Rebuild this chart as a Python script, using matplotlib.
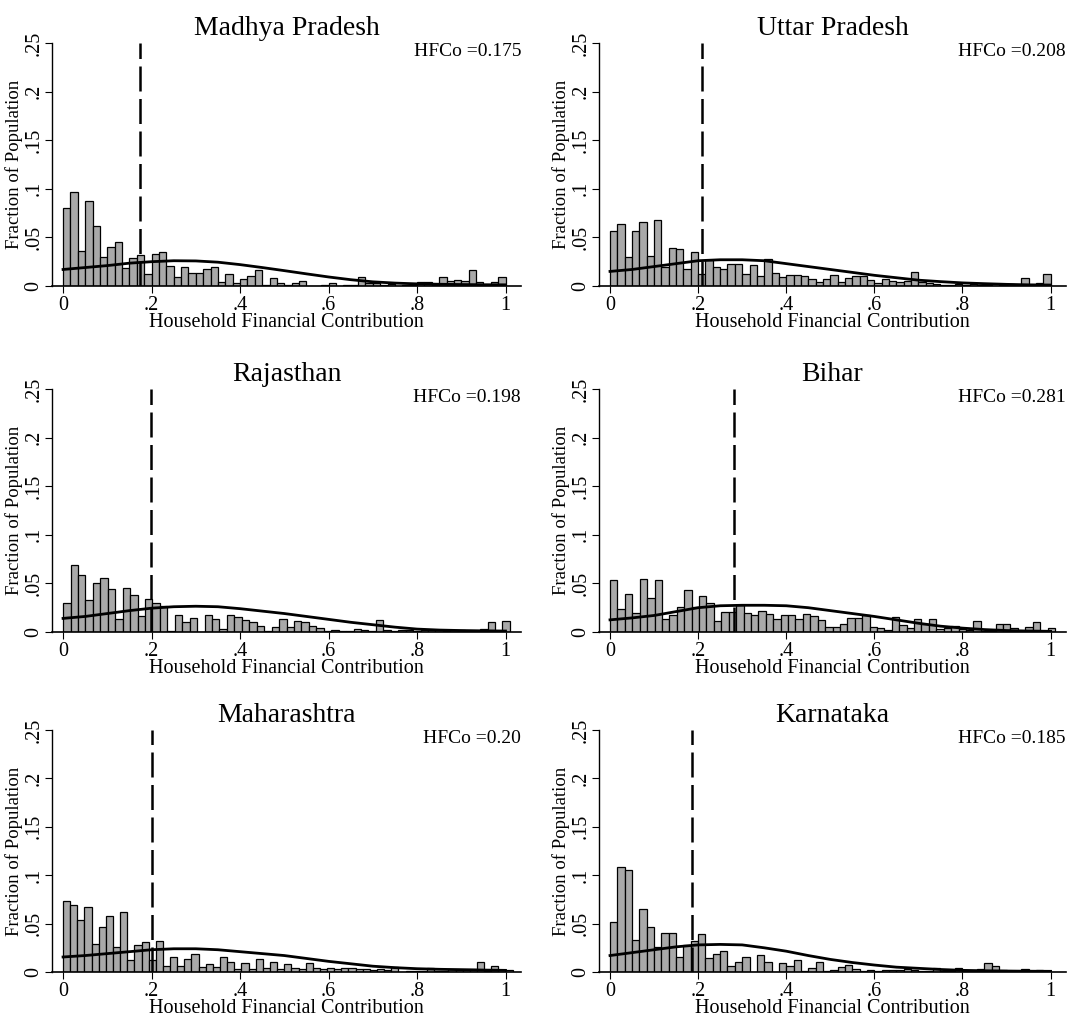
import numpy as np
import matplotlib
matplotlib.use('Agg')
import matplotlib.pyplot as plt

plt.rcParams['font.family'] = ['Liberation Serif', 'DejaVu Serif']

states = ['Madhya Pradesh', 'Uttar Pradesh', 'Rajasthan', 'Bihar', 'Maharashtra', 'Karnataka']
hfco = [0.175, 0.208, 0.198, 0.281, 0.20, 0.185]
hfco_labels = ['HFCo =0.175', 'HFCo =0.208', 'HFCo =0.198', 'HFCo =0.281', 'HFCo =0.20', 'HFCo =0.185']
# upper end of the histogram range for each state
bin_upper = [1.0, 1.0, 1.01, 1.01, 1.016, 1.0]

# bar heights (fraction of population)
mp_frac = [0.080, 0.097, 0.036, 0.087, 0.062, 0.030, 0.040, 0.045, 0.019, 0.029,
           0.032, 0.012, 0.033, 0.035, 0.021, 0.009, 0.020, 0.013, 0.013, 0.017,
           0.020, 0.004, 0.012, 0.003, 0.007, 0.010, 0.016, 0.001, 0.008, 0.003,
           0.001, 0.003, 0.005, 0.000, 0.000, 0.001, 0.003, 0.000, 0.001, 0.001,
           0.009, 0.003, 0.003, 0.001, 0.002, 0.000, 0.001, 0.001, 0.004, 0.004,
           0.001, 0.009, 0.005, 0.006, 0.005, 0.016, 0.004, 0.000, 0.004, 0.009]
up_frac = [0.057, 0.064, 0.030, 0.057, 0.066, 0.031, 0.068, 0.020, 0.039, 0.038,
           0.017, 0.035, 0.012, 0.027, 0.020, 0.018, 0.023, 0.023, 0.012, 0.022,
           0.010, 0.028, 0.013, 0.009, 0.011, 0.011, 0.010, 0.007, 0.004, 0.007,
           0.011, 0.004, 0.008, 0.010, 0.010, 0.006, 0.003, 0.007, 0.005, 0.004,
           0.005, 0.014, 0.004, 0.003, 0.002, 0.001, 0.001, 0.002, 0.001, 0.002,
           0.001, 0.001, 0.000, 0.001, 0.002, 0.001, 0.008, 0.000, 0.003, 0.012]
raj_frac = [0.030, 0.069, 0.059, 0.033, 0.050, 0.056, 0.044, 0.013, 0.045, 0.038,
            0.016, 0.034, 0.030, 0.027, 0.001, 0.017, 0.010, 0.014, 0.000, 0.018,
            0.013, 0.003, 0.017, 0.015, 0.012, 0.010, 0.006, 0.001, 0.005, 0.013,
            0.005, 0.011, 0.010, 0.006, 0.004, 0.001, 0.002, 0.001, 0.001, 0.003,
            0.002, 0.001, 0.012, 0.002, 0.001, 0.002, 0.002, 0.001, 0.002, 0.002,
            0.002, 0.001, 0.002, 0.002, 0.001, 0.001, 0.003, 0.010, 0.000, 0.011]
bih_frac = [0.054, 0.024, 0.039, 0.020, 0.055, 0.035, 0.054, 0.013, 0.018, 0.026,
            0.043, 0.026, 0.037, 0.030, 0.011, 0.021, 0.021, 0.028, 0.020, 0.017,
            0.022, 0.019, 0.013, 0.017, 0.017, 0.013, 0.019, 0.016, 0.012, 0.005,
            0.005, 0.008, 0.014, 0.014, 0.017, 0.005, 0.004, 0.002, 0.015, 0.007,
            0.004, 0.013, 0.008, 0.013, 0.003, 0.004, 0.006, 0.003, 0.002, 0.011,
            0.001, 0.001, 0.008, 0.008, 0.004, 0.001, 0.005, 0.010, 0.001, 0.004]
mah_frac = [0.073, 0.069, 0.054, 0.067, 0.029, 0.046, 0.058, 0.026, 0.062, 0.012,
            0.028, 0.031, 0.012, 0.032, 0.006, 0.015, 0.006, 0.013, 0.019, 0.005,
            0.008, 0.005, 0.016, 0.010, 0.003, 0.009, 0.003, 0.013, 0.004, 0.010,
            0.003, 0.008, 0.004, 0.003, 0.009, 0.004, 0.003, 0.004, 0.003, 0.004,
            0.004, 0.003, 0.003, 0.002, 0.003, 0.002, 0.005, 0.000, 0.001, 0.001,
            0.001, 0.004, 0.001, 0.001, 0.003, 0.003, 0.003, 0.003, 0.010, 0.001,
            0.006, 0.000, 0.002]
kar_frac = [0.052, 0.108, 0.105, 0.033, 0.065, 0.047, 0.026, 0.040, 0.040, 0.016,
            0.028, 0.032, 0.039, 0.014, 0.019, 0.022, 0.006, 0.010, 0.015, 0.000,
            0.018, 0.010, 0.000, 0.009, 0.006, 0.012, 0.001, 0.004, 0.010, 0.001,
            0.002, 0.005, 0.007, 0.003, 0.001, 0.002, 0.001, 0.002, 0.002, 0.002,
            0.003, 0.002, 0.001, 0.001, 0.004, 0.001, 0.001, 0.004, 0.001, 0.001,
            0.003, 0.009, 0.006, 0.002, 0.001, 0.001, 0.003, 0.001, 0.002, 0.000]
fractions = [mp_frac, up_frac, raj_frac, bih_frac, mah_frac, kar_frac]

# overlaid density curve, read at x = 0, .05, ..., 1
curve_x = [0, .05, .1, .15, .2, .25, .3, .35, .4, .45, .5,
           .55, .6, .65, .7, .75, .8, .85, .9, .95, 1]
mp_curve = [.017, .019, .021, .0235, .025, .026, .0258, .0245, .022, .019, .0158,
            .0125, .0093, .0065, .0043, .003, .0022, .0018, .0015, .0013, .0012]
up_curve = [.015, .017, .020, .023, .026, .027, .027, .026, .023, .020, .017,
            .014, .011, .0085, .006, .0045, .0032, .0024, .0017, .0012, .001]
raj_curve = [.014, .016, .019, .022, .0245, .026, .0265, .026, .024, .0215, .019,
             .016, .013, .010, .0075, .005, .003, .002, .0015, .0012, .001]
bih_curve = [.0125, .0145, .017, .021, .025, .027, .0275, .0275, .027, .025, .022,
             .019, .016, .0125, .009, .006, .004, .0025, .0015, .001, .0007]
mah_curve = [.0155, .017, .019, .021, .023, .024, .024, .023, .021, .019, .017,
             .014, .011, .0085, .006, .0045, .0034, .0028, .0024, .002, .0017]
kar_curve = [.017, .020, .023, .026, .028, .0285, .028, .025, .0215, .017, .013,
             .0098, .0072, .005, .0038, .0026, .0017, .0013, .001, .0008, .0007]
curves = [mp_curve, up_curve, raj_curve, bih_curve, mah_curve, kar_curve]

W, H = 1070, 1019
fig = plt.figure(figsize=(W / 100, H / 100), dpi=100)

# axes boxes in pixels: left, right, top, bottom
col_x = [(52, 521), (599, 1066)]
row_y = [(43, 286), (389, 632), (730, 972)]

for k, state in enumerate(states):
    r, c = divmod(k, 2)
    x0, x1 = col_x[c]
    yt, yb = row_y[r]
    ax = fig.add_axes([x0 / W, 1 - yb / H, (x1 - x0) / W, (yb - yt) / H])

    vals = fractions[k]
    n = len(vals)
    edges = np.linspace(0, bin_upper[k], n + 1)
    ax.bar(edges[:-1], vals, width=np.diff(edges), align='edge',
           color='#a9a9a9', edgecolor='black', linewidth=0.9, zorder=2)
    ax.plot(curve_x, curves[k], color='black', lw=2.0, zorder=3)
    ax.plot([hfco[k], hfco[k]], [0, 0.25], color='black', lw=1.8,
            dashes=(10, 3), zorder=4)

    ax.set_xlim(-0.025, 1.035)
    ax.set_ylim(0, 0.25)
    ax.spines['top'].set_visible(False)
    ax.spines['right'].set_visible(False)
    ax.spines['left'].set_linewidth(1.0)
    ax.spines['bottom'].set_linewidth(1.2)

    ax.set_xticks([0, .2, .4, .6, .8, 1])
    ax.set_xticklabels(['0', '.2', '.4', '.6', '.8', '1'])
    ax.set_yticks([0, .05, .1, .15, .2, .25])
    ax.set_yticklabels(['0', '.05', '.1', '.15', '.2', '.25'], rotation=90, va='center')
    ax.tick_params(direction='out', length=5, width=0.8, labelsize=14.5)
    ax.tick_params(axis='x', pad=2)
    ax.tick_params(axis='y', pad=1)

    ax.set_title(state, fontsize=20, pad=6)
    ax.set_ylabel('Fraction of Population', fontsize=13.5, labelpad=1)
    ax.set_xlabel('Household Financial Contribution', fontsize=14.5, labelpad=-1)
    ax.text(1.0, 0.965, hfco_labels[k], transform=ax.transAxes,
            ha='right', va='center', fontsize=14)

plt.savefig('out.png', dpi=100)
